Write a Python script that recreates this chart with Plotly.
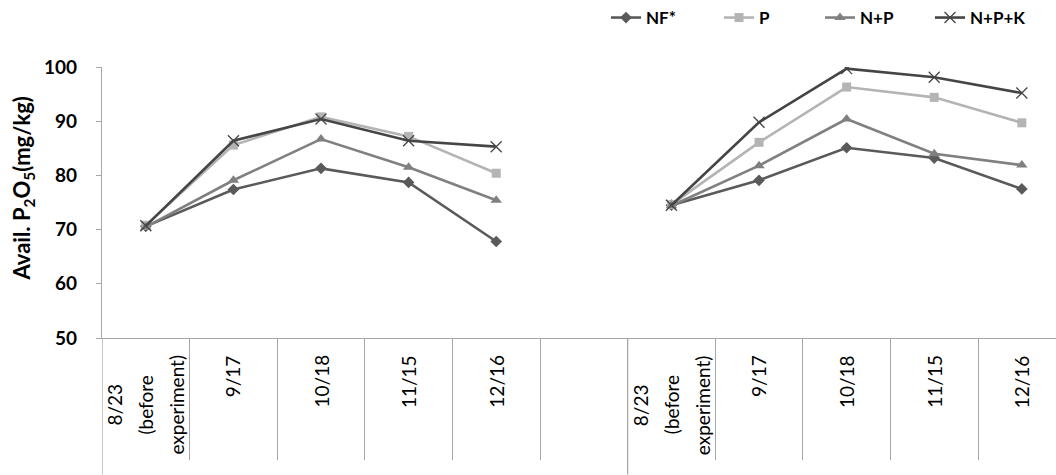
import plotly.graph_objects as go

# Sampling dates: two experiment sites side by side, separated by an empty slot
categories = ["8/23<br>(before<br>experiment)", "9/17", "10/18", "11/15", "12/16", "",
              "8/23<br>(before<br>experiment)", "9/17", "10/18", "11/15", "12/16"]

# Available P2O5 (mg/kg); None marks the empty slot between the two sites
nf = [70.6, 77.4, 81.3, 78.7, 67.8, None, 74.5, 79.1, 85.1, 83.2, 77.5]
p = [70.8, 85.6, 90.8, 87.2, 80.4, None, 74.6, 86.1, 96.3, 94.4, 89.7]
np_ = [70.5, 79.1, 86.7, 81.5, 75.4, None, 74.4, 81.8, 90.4, 84.0, 81.9]
npk = [70.7, 86.4, 90.4, 86.4, 85.3, None, 74.5, 89.8, 99.7, 98.1, 95.2]

series = [
    ("NF*", nf, "#5a5a5a", "diamond", 9),
    ("P", p, "#b4b4b4", "square", 9),
    ("N+P", np_, "#808080", "triangle-up", 10),
    ("N+P+K", npk, "#454545", "x-thin", 11),
]

# pixel geometry of the plotting area
L, T, B, W, H = 102, 66, 338, 1056, 475
plot_w = W - L
plot_h = B - T

def px_x(px):
    return (px - L) / plot_w

def px_y(py):
    return (B - py) / plot_h

xs = list(range(len(categories)))
legend_px = [606, 719, 820, 930]
legend_names = ["legend", "legend2", "legend3", "legend4"]
legend_font = dict(family="Lato", size=17, color="#000000", weight="bold")

fig = go.Figure()
for (name, vals, color, symbol, size), lg in zip(series, legend_names):
    marker = dict(symbol=symbol, size=size, color=color)
    if symbol == "x-thin":
        marker["line"] = dict(color=color, width=1.3)
    fig.add_trace(go.Scatter(
        x=xs, y=vals, name=name, mode="lines+markers",
        line=dict(color=color, width=2.6),
        marker=marker, connectgaps=False, legend=lg,
    ))

legends = {}
for lg, lx in zip(legend_names, legend_px):
    legends[lg] = dict(orientation="h", x=px_x(lx), xanchor="left",
                       y=px_y(17), yanchor="middle", font=legend_font,
                       itemwidth=30, bgcolor="rgba(0,0,0,0)")

axis_gray = "#a6a6a6"
label_font = dict(family="Lato", size=19, color="#000000")

# Category labels, rotated; multi-line labels get one annotation per line
annotations = []
for i, lab in enumerate(categories):
    if not lab:
        continue
    lines = lab.split("<br>")
    n = len(lines)
    for j, line in enumerate(lines):
        if n == 1:
            ypos, yanc = px_y(353), "top"
        else:
            ypos, yanc = px_y(405), "middle"
        annotations.append(dict(
            x=i, y=ypos, xref="x", yref="paper",
            text=line, textangle=-90, showarrow=False,
            xanchor="center", yanchor=yanc,
            xshift=(j - (n - 1) / 2) * 31,
            font=label_font,
        ))

# Y-axis title with sub-scripts
annotations.append(dict(
    x=px_x(23), y=px_y(188), xref="paper", yref="paper",
    text="<b>Avail. P<sub>2</sub>O<sub>5</sub>(mg/kg)</b>",
    textangle=-90, showarrow=False, xanchor="center", yanchor="middle",
    font=dict(family="Lato", size=22, color="#000000"),
))

# Group boundaries extend to the bottom edge
shapes = []
for bx in (-0.5, 5.5):
    shapes.append(dict(type="line", xref="x", yref="paper",
                       x0=bx, x1=bx, y0=0, y1=px_y(H),
                       line=dict(color=axis_gray, width=1.3)))

fig.update_layout(
    width=W, height=H,
    margin=dict(l=L, r=0, t=T, b=H - B),
    paper_bgcolor="white", plot_bgcolor="white",
    showlegend=True,
    annotations=annotations,
    shapes=shapes,
    xaxis=dict(
        range=[-0.5, 10.39], tickvals=xs, showticklabels=False,
        ticks="", showline=True, linecolor=axis_gray, linewidth=1.3,
        showgrid=False, zeroline=False,
        minor=dict(tickvals=[0.5, 1.5, 2.5, 3.5, 4.5, 6.5, 7.5, 8.5, 9.5],
                   ticks="outside", ticklen=121, tickcolor=axis_gray, tickwidth=1.3),
    ),
    yaxis=dict(
        range=[50, 100], dtick=10, ticks="outside", ticklen=5, tickcolor=axis_gray,
        tickwidth=1.3, showline=True, linecolor=axis_gray, linewidth=1.3,
        showgrid=False, zeroline=False, ticklabelstandoff=15,
        tickfont=dict(family="Lato", size=19, color="#000000", weight="bold"),
    ),
    **legends,
)

fig.write_html("out.html")
